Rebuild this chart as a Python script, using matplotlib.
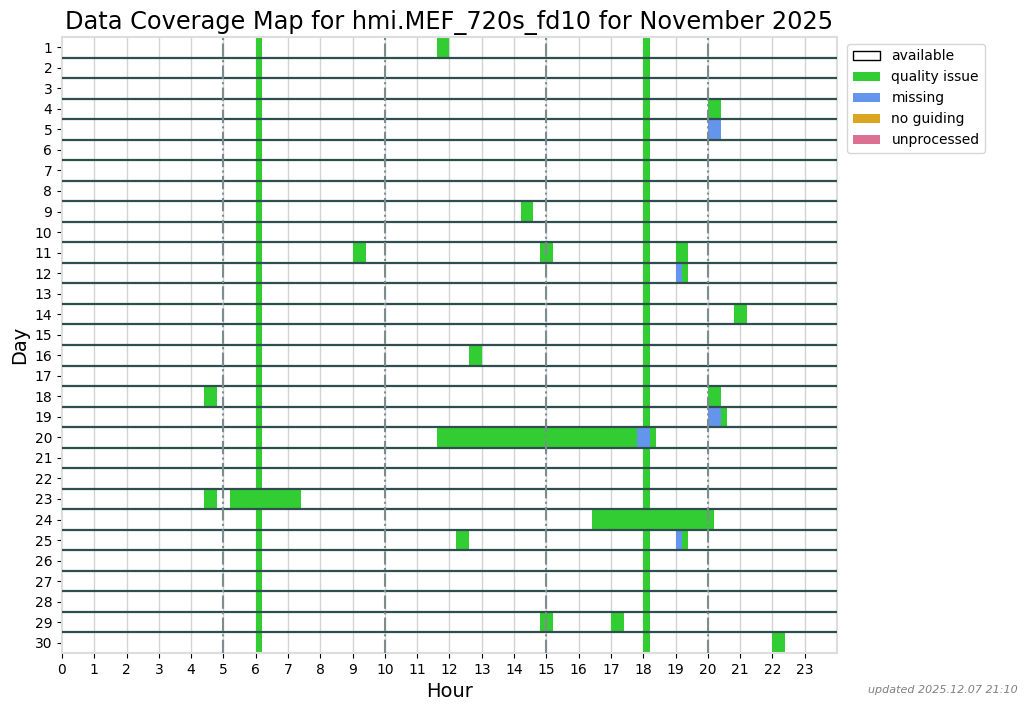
# Coverage map for hmi.MEF_720s_fd10, November 2025
import matplotlib.pyplot as plt
from matplotlib.patches import Patch

days = list(range(1, 31))
hours = list(range(0, 24))

# intervals: (day, start hour, end hour)
daily_quality = [(6.0, 6.2), (18.0, 18.2)]   # recurring on every day
quality = [
    (1, 11.6, 12.0), (4, 20.0, 20.4), (9, 14.2, 14.6),
    (11, 9.0, 9.4), (11, 14.8, 15.2), (11, 19.0, 19.4),
    (12, 19.2, 19.4), (14, 20.8, 21.2), (16, 12.6, 13.0),
    (18, 4.4, 4.8), (18, 20.0, 20.4), (19, 20.4, 20.6),
    (20, 11.6, 17.8), (20, 18.2, 18.4),
    (23, 4.4, 4.8), (23, 5.2, 7.4), (24, 16.4, 20.2),
    (25, 12.2, 12.6), (25, 19.2, 19.4),
    (29, 14.8, 15.2), (29, 17.0, 17.4), (30, 22.0, 22.4),
]
missing = [
    (5, 20.0, 20.4), (12, 19.0, 19.2), (19, 20.0, 20.4),
    (20, 17.8, 18.2), (25, 19.0, 19.2),
]
no_guiding = []
unprocessed = [(30, 23.96, 24.0)]

colors = {
    'quality issue': '#32CD32',
    'missing': '#6495ED',
    'no guiding': '#DAA520',
    'unprocessed': '#DB7093',
}

fig = plt.figure(figsize=(10.28, 7.11), dpi=100)
ax = fig.add_axes([0.0603, 0.0816, 0.7539, 0.8664])


def draw(intervals, color):
    for day, start, end in intervals:
        ax.barh(day, end - start, left=start, height=1.0, color=color,
                linewidth=0, zorder=2)


draw([(d, s, e) for d in days for s, e in daily_quality], colors['quality issue'])
draw(quality, colors['quality issue'])
draw(missing, colors['missing'])
draw(no_guiding, colors['no guiding'])
draw(unprocessed, colors['unprocessed'])

# hour grid and 5-hour markers
for h in hours[1:]:
    ax.axvline(h, color='#d3d3d3', linewidth=1, zorder=1)
for h in [5, 10, 15, 20]:
    ax.axvline(h, color='#7f8c8f', linewidth=1.5, linestyle='-.', zorder=4)

# day separators
for d in days[:-1]:
    ax.axhline(d + 0.5, color='#2F4F4F', linewidth=1.6, zorder=3)

ax.set_xlim(0, 24)
ax.set_ylim(30.5, 0.5)
ax.set_xticks(hours)
ax.set_yticks(days)
ax.tick_params(labelsize=10)
for sp in ax.spines.values():
    sp.set_color('#dddddd')
    sp.set_linewidth(1.5)

ax.set_title('Data Coverage Map for hmi.MEF_720s_fd10 for November 2025', fontsize=17.3)
ax.set_xlabel('Hour', fontsize=14)
ax.set_ylabel('Day', fontsize=14)

handles = [Patch(facecolor='white', edgecolor='black', label='available')]
handles += [Patch(facecolor=c, label=k) for k, c in colors.items()]
ax.legend(handles=handles, loc='upper left', bbox_to_anchor=(1.004, 1.0),
          fontsize=10)

fig.text(0.99, 0.03, 'updated 2025.12.07 21:10', ha='right', va='center',
         fontsize=8, style='italic', color='gray')

fig.savefig('out.png', dpi=100)
